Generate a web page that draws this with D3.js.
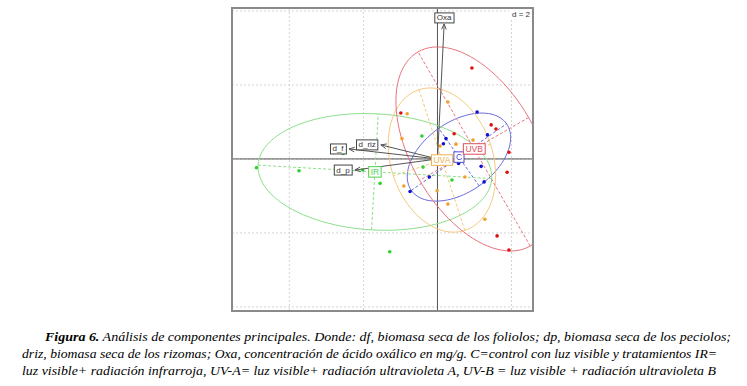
<!DOCTYPE html>
<html>
<head>
<meta charset="utf-8">
<script src="https://cdn.jsdelivr.net/npm/d3@7"></script>
<style>
body { margin: 0; background: #fff; }
</style>
</head>
<body>
<div id="chart"></div>
<script>
// principal component scores per treatment
const groups = ["C", "IR", "UVA", "UVB"];
const groupColors = ["#1010d0", "#30d030", "#f0a030", "#e01010"];
const ellipseColors = ["#6a6ae0", "#8ce08c", "#f6c97e", "#e8737e"];
const labelColors = ["#4a4ad8", "#50d050", "#f0b050", "#e05060"];

const pointsC = [[1.07, 1.27], [1.35, 0.65], [0.23, 0.55], [0.16, 0.41], [0.57, -0.12],
    [1.18, -0.20], [-0.22, -0.49], [1.26, -0.62], [-0.74, -0.88]];
const pointsIR = [[-4.89, -0.24], [-3.74, -0.32], [-2.55, 0.15], [-2.05, 0.47], [-2.02, -0.30],
    [-1.55, -0.66], [-0.42, 0.62], [-0.39, -0.22], [0.39, -0.57], [-1.29, -2.51]];
const pointsUVA = [[0.28, 1.54], [-0.82, 1.22], [-0.96, 0.55], [0.96, 0.51], [0.50, 0.40],
    [0.07, 0.35], [0.74, -0.49], [-0.91, -0.73], [-0.01, -0.86], [0.28, -1.22], [1.28, -1.63]];
const pointsUVB = [[0.93, 2.46], [-0.99, 1.24], [1.45, 0.92], [1.58, 0.81], [0.45, 0.68],
    [1.93, 0.18], [1.88, -0.36], [1.61, -2.08], [1.93, -2.46]];

// ellipse of each group: centre, semi axes, angle of the first axis (degrees)
const ellCenters = [[0.58, 0.05], [-1.69, -0.35], [0.12, -0.03], [0.99, 0.27]];
const ellAxes = [[1.57, 0.95], [3.16, 1.57], [2.0, 1.38], [3.03, 1.70]];
const ellAngles = [35, -3.3, 108, 120];

// variables (arrows)
const varNames = ["Oxa", "d_riz", "d_f", "d_p"];
const varCoords = [[0.18, 3.65], [-1.53, 0.38], [-2.39, 0.27], [-2.23, -0.30]];

const gridStep = 2;
const xLimits = [-5.55, 2.58], yLimits = [-4.11, 4.08];

const caption = [
    ["Figura 6.", " Análisis de componentes principales. Donde: df, biomasa seca de los foliolos; dp, biomasa seca de los peciolos;"],
    ["", "driz, biomasa seca de los rizomas; Oxa, concentración de ácido oxálico en mg/g. C=control con luz visible y tratamientos IR="],
    ["", "luz visible+ radiación infrarroja, UV-A= luz visible+ radiación ultravioleta A, UV-B = luz visible + radiación ultravioleta B"]
];

const W = 747, H = 386;
const frame = { left: 232, right: 533, top: 8, bottom: 311 };

const svg = d3.select("#chart").append("svg")
    .attr("width", W)
    .attr("height", H)
    .style("font-family", "'Liberation Sans', Arial, sans-serif");

const x = d3.scaleLinear().domain(xLimits).range([frame.left, frame.right]);
const y = d3.scaleLinear().domain(yLimits).range([frame.bottom, frame.top]);

svg.append("defs").append("clipPath").attr("id", "clip")
    .append("rect")
    .attr("x", frame.left).attr("y", frame.top)
    .attr("width", frame.right - frame.left)
    .attr("height", frame.bottom - frame.top);

const g = svg.append("g").attr("clip-path", "url(#clip)");

// grid
const xt = d3.range(Math.ceil(xLimits[0] / gridStep) * gridStep, xLimits[1], gridStep);
const yt = d3.range(Math.ceil(yLimits[0] / gridStep) * gridStep, yLimits[1], gridStep);
g.selectAll(".gx").data(xt).enter().append("line")
    .attr("x1", d => x(d)).attr("x2", d => x(d))
    .attr("y1", frame.top).attr("y2", frame.bottom)
    .attr("stroke", "#d4d4d4").attr("stroke-dasharray", "2,2");
g.selectAll(".gy").data(yt).enter().append("line")
    .attr("y1", d => y(d)).attr("y2", d => y(d))
    .attr("x1", frame.left).attr("x2", frame.right)
    .attr("stroke", "#d4d4d4").attr("stroke-dasharray", "2,2");

// main axes
g.append("line").attr("x1", frame.left).attr("x2", frame.right)
    .attr("y1", y(0)).attr("y2", y(0)).attr("stroke", "#555");
g.append("line").attr("y1", frame.top).attr("y2", frame.bottom)
    .attr("x1", x(0)).attr("x2", x(0)).attr("stroke", "#555");

const allPoints = [pointsC, pointsIR, pointsUVA, pointsUVB];

// ellipses and their axes
groups.forEach((grp, i) => {
    const [cx, cy] = ellCenters[i];
    const [a, b] = ellAxes[i];
    const th = ellAngles[i] * Math.PI / 180;
    const pts = d3.range(0, 101).map(k => {
        const t = k / 100 * 2 * Math.PI;
        return [cx + a * Math.cos(t) * Math.cos(th) - b * Math.sin(t) * Math.sin(th),
                cy + a * Math.cos(t) * Math.sin(th) + b * Math.sin(t) * Math.cos(th)];
    });
    g.append("path")
        .attr("d", d3.line().x(d => x(d[0])).y(d => y(d[1]))(pts))
        .attr("fill", "none")
        .attr("stroke", ellipseColors[i])
        .attr("stroke-width", 1);
    const segs = [[a * Math.cos(th), a * Math.sin(th)], [-b * Math.sin(th), b * Math.cos(th)]];
    segs.forEach(s => {
        g.append("line")
            .attr("x1", x(cx - s[0])).attr("y1", y(cy - s[1]))
            .attr("x2", x(cx + s[0])).attr("y2", y(cy + s[1]))
            .attr("stroke", ellipseColors[i])
            .attr("stroke-width", 1)
            .attr("stroke-dasharray", "3,2");
    });
});

// points
groups.forEach((grp, i) => {
    g.selectAll(".pt" + grp).data(allPoints[i]).enter().append("circle")
        .attr("cx", d => x(d[0]))
        .attr("cy", d => y(d[1]))
        .attr("r", 1.8)
        .attr("fill", groupColors[i]);
});

// variable arrows
varNames.forEach((name, i) => {
    const [vx, vy] = varCoords[i];
    const x1 = x(0), y1 = y(0), x2 = x(vx), y2 = y(vy);
    const ang = Math.atan2(y2 - y1, x2 - x1);
    const len = 6, spread = 0.4;
    g.append("line").attr("x1", x1).attr("y1", y1).attr("x2", x2).attr("y2", y2)
        .attr("stroke", "#555").attr("stroke-width", 1);
    [-spread, spread].forEach(s => {
        g.append("line")
            .attr("x1", x2).attr("y1", y2)
            .attr("x2", x2 - len * Math.cos(ang + s))
            .attr("y2", y2 - len * Math.sin(ang + s))
            .attr("stroke", "#555").attr("stroke-width", 1);
    });
});

function labelBox(parent, cx, cy, txt, stroke, color, size) {
    const t = parent.append("text")
        .attr("x", cx).attr("y", cy)
        .attr("text-anchor", "middle")
        .attr("dominant-baseline", "central")
        .style("font-size", size + "px")
        .attr("fill", color)
        .text(txt);
    const bb = t.node().getBBox();
    parent.insert("rect", "text:last-of-type")
        .attr("x", bb.x - 2).attr("y", cy - size / 2 - 1)
        .attr("width", bb.width + 4).attr("height", size + 2)
        .attr("fill", "#fff")
        .attr("stroke", stroke)
        .attr("stroke-width", 1);
    return bb;
}

// variable labels, placed just outside the arrow tip
varNames.forEach((name, i) => {
    const [vx, vy] = varCoords[i];
    const lg = g.append("g");
    const tmp = lg.append("text").style("font-size", "8px").text(name);
    const w = tmp.node().getBBox().width + 4;
    tmp.remove();
    let px = x(vx), py = y(vy);
    if (Math.abs(vx) > Math.abs(vy)) px += Math.sign(vx) * (w / 2 + 3);
    else py -= Math.sign(vy) * 6;
    labelBox(lg, px, py, name, "#444", "#333", 8);
});

// group labels at the centre of each ellipse
groups.forEach((grp, i) => {
    const lg = g.append("g");
    labelBox(lg, x(ellCenters[i][0]), y(ellCenters[i][1]), grp, labelColors[i], labelColors[i], 8.5);
});

// d = 2 box
const dg = svg.append("g");
const dt = dg.append("text")
    .attr("x", frame.right - 3).attr("y", frame.top + 6)
    .attr("text-anchor", "end")
    .attr("dominant-baseline", "central")
    .style("font-size", "8px")
    .attr("fill", "#333")
    .text("d = " + gridStep);
const dbb = dt.node().getBBox();
dg.insert("rect", "text")
    .attr("x", dbb.x - 3).attr("y", frame.top)
    .attr("width", frame.right - dbb.x + 3).attr("height", 12)
    .attr("fill", "#fff");

// frame
svg.append("rect")
    .attr("x", frame.left).attr("y", frame.top)
    .attr("width", frame.right - frame.left)
    .attr("height", frame.bottom - frame.top)
    .attr("fill", "none")
    .attr("stroke", "#8a8a8a")
    .attr("stroke-width", 2);

// caption
const capX = [45, 22, 22], capW = [686, 695, 694], capY = [341, 358, 375];
caption.forEach((line, i) => {
    const t = svg.append("text")
        .attr("x", capX[i]).attr("y", capY[i])
        .attr("textLength", capW[i])
        .attr("lengthAdjust", "spacingAndGlyphs")
        .style("font-family", "'Liberation Serif', 'Times New Roman', serif")
        .style("font-style", "italic")
        .style("font-size", "13.5px")
        .attr("fill", "#000");
    if (line[0]) t.append("tspan").style("font-weight", "bold").text(line[0]);
    t.append("tspan").text(line[1]);
});
</script>
</body>
</html>
